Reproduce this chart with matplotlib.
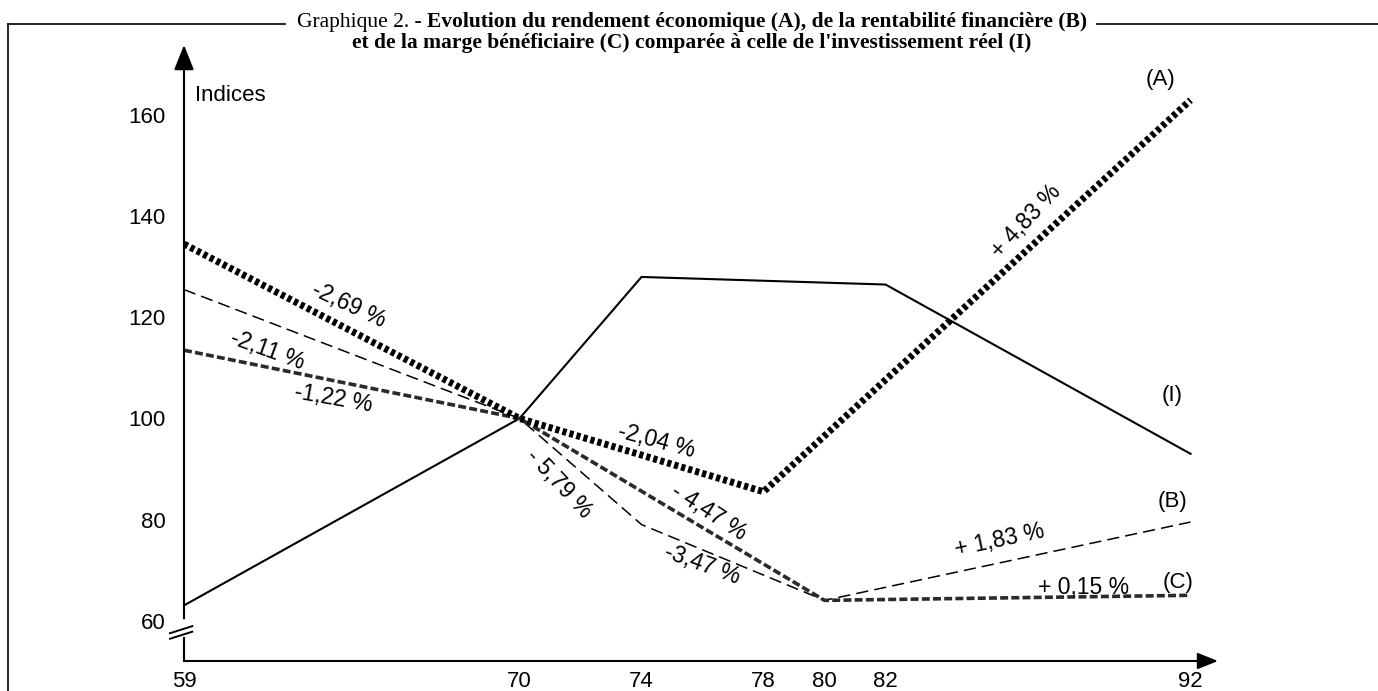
import matplotlib.pyplot as plt
from matplotlib.lines import Line2D

# indices (base 100 in 1970)
years_a = [59, 70, 78, 92]
index_a = [134.5, 100, 85.5, 163]
years_b = [59, 70, 74, 80, 92]
index_b = [125.5, 100, 79, 64, 79.5]
years_c = [59, 70, 80, 92]
index_c = [113.5, 100, 64, 65]
years_i = [59, 70, 74, 82, 92]
index_i = [63, 100, 128, 126.5, 93]

x_ticks = [59, 70, 74, 78, 80, 82, 92]
y_ticks = [60, 80, 100, 120, 140, 160]

rate_labels = ['-2,69 %', '-2,11 %', '-1,22 %', '-2,04 %', '- 5,79 %',
               '- 4,47 %', '-3,47 %', '+ 4,83 %', '+ 1,83 %', '+ 0,15 %']
series_names = ['(A)', '(I)', '(B)', '(C)']

# where the annotations sit (data coords) and their tilt
rate_xy = [(64.4, 122.4), (61.75, 113.5), (63.9, 104), (74.5, 95.5), (71.3, 87),
           (76.2, 81.4), (76.0, 71), (86.6, 139), (85.75, 75.8), (88.5, 66.5)]
rate_rot = [-25, -20, -10, -15, -47, -33, -20, 47, 12, 0]
name_xy = [(91.0, 167), (91.4, 104.5), (91.4, 83.6), (91.6, 67.5)]

plt.rcParams['font.family'] = ['Liberation Sans', 'DejaVu Sans']

W, H = 1378, 691
fig = plt.figure(figsize=(W / 100, H / 100), dpi=100)
ax = fig.add_axes([184 / W, 30 / H, 1034 / W, 616 / H])
ax.set_xlim(59, 92.9)
ax.set_ylim(52, 173.9)
for s in ax.spines.values():
    s.set_visible(False)

# series
ax.plot(years_i, index_i, color='black', lw=1.5, solid_joinstyle='miter')
ax.plot(years_b, index_b, color='black', lw=1.1, linestyle=(0, (8, 4)))
ax.plot(years_c, index_c, color='#2a2a2a', lw=2.6, linestyle=(0, (2.2, 0.9)))
ax.plot(years_a, index_a, color='black', lw=5, linestyle=(0, (0.6, 0.45)),
        dash_capstyle='butt')

# axes with arrows
ax.annotate('', xy=(1, 0), xytext=(0, 0), xycoords='axes fraction',
            arrowprops=dict(arrowstyle='-|>,head_length=0.5,head_width=0.2',
                            mutation_scale=25, lw=1.5, color='black',
                            shrinkA=0, shrinkB=0))
yt = ax.get_yaxis_transform()
ax.plot([0, 0], [52, 56.6], transform=yt, color='black', lw=1.5, clip_on=False)
ax.annotate('', xy=(0, 173.9), xytext=(0, 60.4), xycoords=yt,
            arrowprops=dict(arrowstyle='-|>,head_length=0.55,head_width=0.22',
                            mutation_scale=28, lw=1.5, color='black',
                            shrinkA=0, shrinkB=0))
# axis break "//"
for y0 in (56.4, 57.5):
    ax.plot([-0.0135, 0.008], [y0, y0 + 1.4], transform=yt, color='black',
            lw=1.4, clip_on=False)

ax.set_xticks(x_ticks)
ax.set_xticklabels([str(x) for x in x_ticks])
ax.set_yticks(y_ticks)
ax.set_yticklabels([str(y) for y in y_ticks])
ax.tick_params(axis='both', length=0, labelsize=16)
ax.tick_params(axis='y', pad=13)
ax.tick_params(axis='x', pad=7)

ax.text(59.35, 164, 'Indices', fontsize=16, va='center', ha='left')

for lab, (x, y), r in zip(rate_labels, rate_xy, rate_rot):
    ax.text(x, y, lab, fontsize=16.5, rotation=r, rotation_mode='anchor',
            ha='center', va='center')
for lab, (x, y) in zip(series_names, name_xy):
    ax.text(x, y, lab, fontsize=16, ha='center', va='center')

# title, first part plain, rest bold
serif = ['Liberation Serif', 'DejaVu Serif']
cx = 692
y1, y2 = 1 - 22 / H, 1 - 43 / H
t1a = fig.text(0, y1, 'Graphique 2. - ', family=serif, fontsize=15.5, va='center')
t1b = fig.text(0, y1,
               'Evolution du rendement économique (A), de la rentabilité financière (B)',
               family=serif, fontsize=15.5, fontweight='bold', va='center')
fig.text(cx / W, y2,
         "et de la marge bénéficiaire (C) comparée à celle de l'investissement réel (I)",
         family=serif, fontsize=15.5, fontweight='bold', va='center', ha='center')
r = fig.canvas.get_renderer()
wa = t1a.get_window_extent(r).width
wb = t1b.get_window_extent(r).width
x0 = cx - (wa + wb) / 2
t1a.set_x(x0 / W)
t1b.set_x((x0 + wa) / W)

# frame rules
ytop = 1 - 24 / H
fig.add_artist(Line2D([8 / W, 8 / W], [0, ytop], color='black', lw=1.2))
fig.add_artist(Line2D([8 / W, (x0 - 12) / W], [ytop, ytop], color='black', lw=1.2))
fig.add_artist(Line2D([(x0 + wa + wb + 10) / W, 1], [ytop, ytop], color='black', lw=1.2))

fig.savefig('out.png', dpi=100)
